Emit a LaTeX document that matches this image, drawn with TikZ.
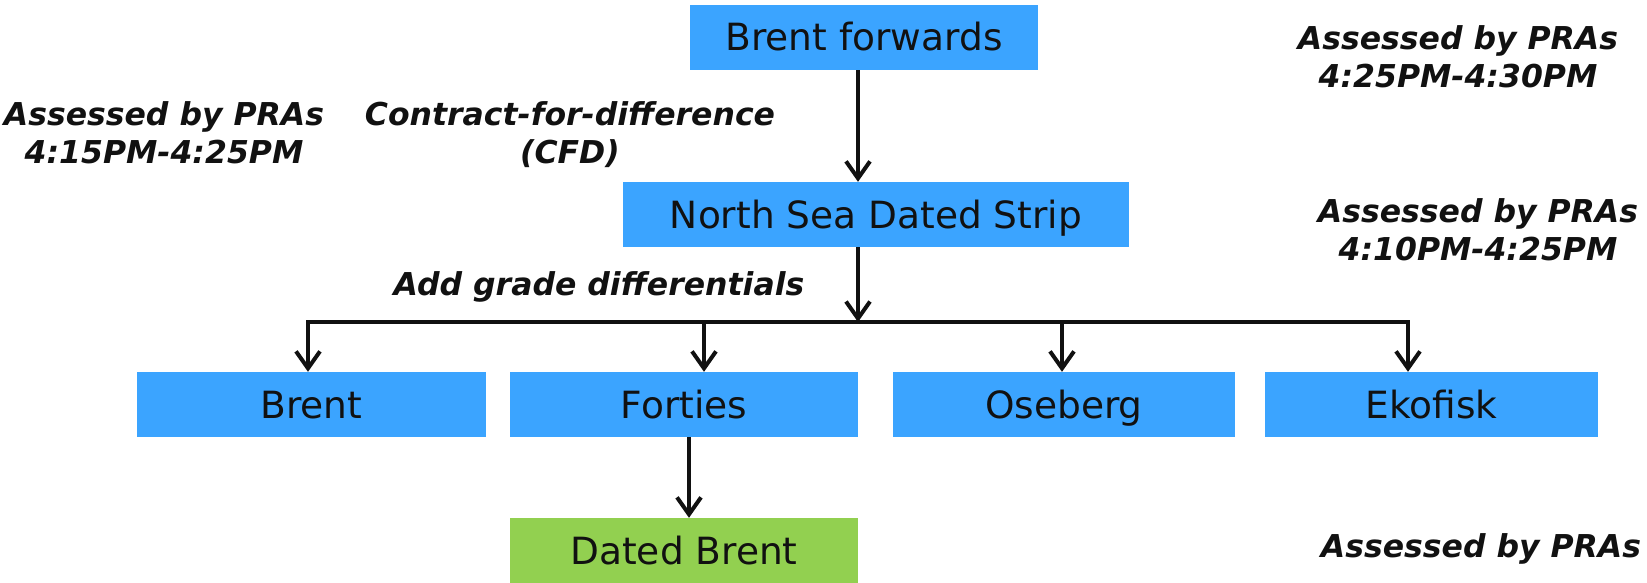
\documentclass[tikz,border=0pt]{standalone}
\usepackage{fontspec}
\setmainfont{DejaVu Sans}[BoldFont={DejaVu Sans Bold},ItalicFont={DejaVu Sans Oblique},BoldItalicFont={DejaVu Sans Bold Oblique}]
\usetikzlibrary{arrows.meta}
\definecolor{boxblue}{RGB}{59,164,255}
\definecolor{boxgreen}{RGB}{146,208,80}
\definecolor{ink}{RGB}{17,17,17}
\begin{document}
\begin{tikzpicture}[x=1pt,y=-1pt,
  box/.style={fill=boxblue,draw=none,inner sep=0pt,minimum height=65pt,text height=27pt,text depth=0pt,font=\fontsize{37.5}{44}\selectfont,text=ink},
  greenbox/.style={box,fill=boxgreen},
  lbl/.style={inner sep=0pt,align=center,font=\fontsize{31.5}{38}\selectfont\bfseries\itshape,text=ink},
  arr/.style={draw=ink,line width=4pt,-{Straight Barb[length=17pt,width=24pt,line width=4pt]}},
  bar/.style={draw=ink,line width=3.3pt,line cap=rect}]
\useasboundingbox (0,0) rectangle (1647,583);
% boxes
\node[box,minimum width=348pt] (bf) at (864,37.5) {Brent forwards};
\node[box,minimum width=506pt] (nsds) at (876,214.5) {North Sea Dated Strip};
\node[box,minimum width=349pt] (brent) at (311.5,404.5) {Brent};
\node[box,minimum width=348pt] (forties) at (684,404.5) {Forties};
\node[box,minimum width=342pt] (oseberg) at (1064,404.5) {Oseberg};
\node[box,minimum width=333pt] (ekofisk) at (1431.5,404.5) {Ekofisk};
\node[greenbox,minimum width=348pt] (dated) at (684,550.5) {Dated Brent};
% junction points
\coordinate (hub) at (858,322);
\coordinate (j1) at (308,322);
\coordinate (j2) at (704,322);
\coordinate (j3) at (1062,322);
\coordinate (j4) at (1408,322);
\coordinate (fd) at (689,437);
% connectors
\draw[arr] (bf.south -| hub) -- (nsds.north -| hub);
\draw[arr] (nsds.south -| hub) -- (hub);
\draw[bar] (j1) -- (j4);
\draw[arr] (j1) -- (j1 |- brent.north);
\draw[arr] (j2) -- (j2 |- forties.north);
\draw[arr] (j3) -- (j3 |- oseberg.north);
\draw[arr] (j4) -- (j4 |- ekofisk.north);
\draw[arr] (forties.south -| fd) -- (dated.north -| fd);
% labels (base anchor = baseline of last line)
\node[lbl,anchor=base] (l1) at (164,164) {Assessed by PRAs\\4:15PM-4:25PM};
\node[lbl,anchor=base] (l2) at (570,164) {Contract-for-difference\\(CFD)};
\node[lbl,anchor=base] (l3) at (1458,88) {Assessed by PRAs\\4:25PM-4:30PM};
\node[lbl,anchor=base] (l4) at (1478,260) {Assessed by PRAs\\4:10PM-4:25PM};
\node[lbl,anchor=base] (l5) at (1481,557) {Assessed by PRAs};
\node[lbl,anchor=base] (l6) at (599,295) {Add grade differentials};
\end{tikzpicture}
\end{document}
